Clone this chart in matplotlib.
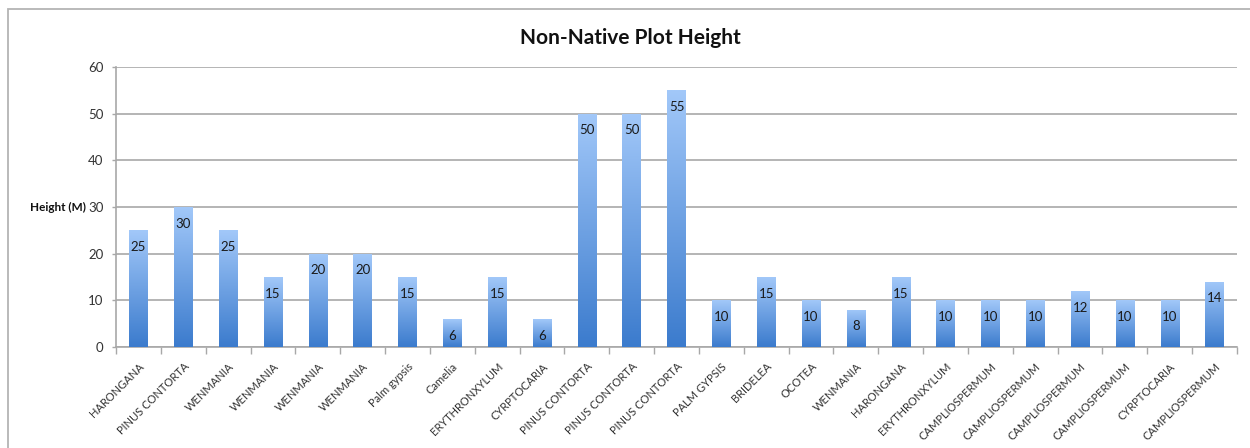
import numpy as np
import matplotlib
matplotlib.use("Agg")
import matplotlib.pyplot as plt
from matplotlib.colors import LinearSegmentedColormap
from matplotlib.patches import Rectangle

# Species recorded in each non-native plot and the measured height
species = [
    "HARONGANA", "PINUS CONTORTA", "WENMANIA", "WENMANIA", "WENMANIA",
    "WENMANIA", "Palm gypsis", "Camelia", "ERYTHRONXYLUM", "CYRPTOCARIA",
    "PINUS CONTORTA", "PINUS CONTORTA", "PINUS CONTORTA", "PALM GYPSIS",
    "BRIDELEA", "OCOTEA", "WENMANIA", "HARONGANA", "ERYTHRONXYLUM",
    "CAMPLIOSPERMUM", "CAMPLIOSPERMUM", "CAMPLIOSPERMUM", "CAMPLIOSPERMUM",
    "CYRPTOCARIA", "CAMPLIOSPERMUM",
]
heights = [25, 30, 25, 15, 20, 20, 15, 6, 15, 6, 50, 50, 55, 10, 15, 10, 8,
           15, 10, 10, 10, 12, 10, 10, 14]
y_ticks = [0, 10, 20, 30, 40, 50, 60]

plt.rcParams["font.family"] = ["Lato", "DejaVu Sans"]

fig = plt.figure(figsize=(12.5, 4.48), dpi=100)
ax = fig.add_axes([116 / 1250, 1 - 347 / 448, (1237 - 116) / 1250, (347 - 67) / 448])

# Thin frame around the chart area
fig.patches.append(Rectangle((8 / 1250, -0.1), 1.2, 1 - 9 / 448 + 0.1,
                             transform=fig.transFigure, fill=False,
                             edgecolor="#b4b4b4", linewidth=1.3, zorder=0))

x = np.arange(len(species))
bars = ax.bar(x, heights, width=0.41, color="none", edgecolor="none", zorder=3)

# Vertical blue gradient inside every bar
cmap = LinearSegmentedColormap.from_list("bar_grad", ["#3b7bcd", "#a2c8f9"])
grad = np.linspace(0, 1, 256).reshape(-1, 1)
for b in bars:
    x0, w, h = b.get_x(), b.get_width(), b.get_height()
    im = ax.imshow(grad, cmap=cmap, origin="lower", aspect="auto",
                   extent=(x0, x0 + w, 0, h), zorder=3, interpolation="bilinear")
    im.set_clip_path(b)
    ax.text(x0 + w / 2, h - 3.6, f"{h:g}", ha="center", va="center",
            fontsize=9.5, color="#1a1a1a", zorder=4)

ax.set_xlim(-0.5, len(species) - 0.5)
ax.set_ylim(0, 60)

ax.set_yticks(y_ticks)
ax.set_yticklabels([str(v) for v in y_ticks], fontsize=9.5, color="#333333")
ax.yaxis.grid(True, color="#a8a8a8", linewidth=1.2, zorder=1)
ax.set_axisbelow(True)
ax.tick_params(axis="y", length=3, width=1, color="#a8a8a8", pad=6)

ax.set_xticks(x)
ax.set_xticklabels(species, rotation=45, ha="right", rotation_mode="anchor",
                   fontsize=8, color="#333333")
ax.set_xticks(np.arange(len(species) + 1) - 0.5, minor=True)
ax.tick_params(axis="x", which="major", length=0, pad=10)
ax.tick_params(axis="x", which="minor", length=5, width=1, color="#a8a8a8")

for side in ("top", "right"):
    ax.spines[side].set_visible(False)
for side in ("left", "bottom"):
    ax.spines[side].set_color("#a8a8a8")
    ax.spines[side].set_linewidth(1.2)

ax.set_ylabel("Height (M)", rotation=0, fontsize=8.5, fontweight="bold",
              color="#111111", ha="right", va="center")
ax.yaxis.set_label_coords(-0.027, 0.5)

fig.text(630 / 1250, 1 - 38 / 448, "Non-Native Plot Height", ha="center",
         va="center", fontsize=15, fontweight="bold", color="#111111")

fig.savefig("out.png", dpi=100, facecolor="white")
